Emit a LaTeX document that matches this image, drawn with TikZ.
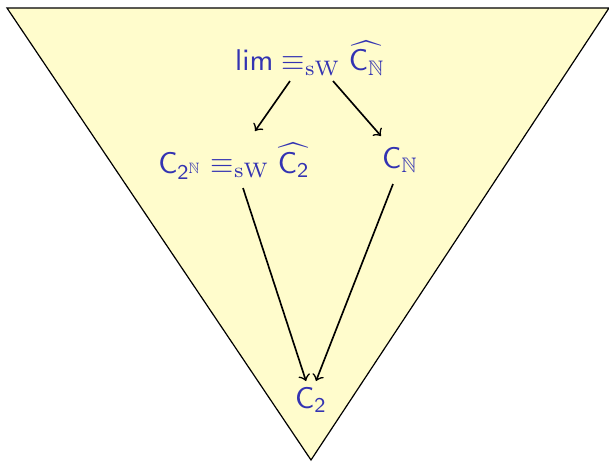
\documentclass[tikz,border=0pt]{standalone}
\usepackage{amsmath,amssymb}
\definecolor{struct}{RGB}{51,51,178}
\definecolor{tri}{RGB}{255,252,204}
\begin{document}
\begin{tikzpicture}[x=0.3333pt,y=-0.3333pt,
  lbl/.style={text=struct,font=\sffamily\normalsize,inner sep=1pt},
  arr/.style={->,line width=0.55pt}]
\useasboundingbox (0,0) rectangle (609,461);
\draw[fill=tri,line width=0.4pt] (7,8) -- (609,8) -- (311,460) -- cycle;
\node[lbl] (top) at (310,58) {$\mathsf{lim} \equiv_{\mathrm{sW}} \widehat{\mathsf{C}_{\mathbb{N}}}$};
\node[lbl] (left) at (234,161) {$\mathsf{C}_{\mathsf{2}^{\mathbb{N}}} \equiv_{\mathrm{sW}} \widehat{\mathsf{C}_{\mathsf{2}}}$};
\node[lbl] (right) at (400,160) {$\mathsf{C}_{\mathbb{N}}$};
\node[lbl] (bot) at (311,400) {$\mathsf{C}_{\mathsf{2}}$};
\draw[arr] (290,81) -- (255,131);
\draw[arr] (333,81) -- (381,136);
\draw[arr] (243,188) -- (306,381);
\draw[arr] (393,184) -- (316,381);
\end{tikzpicture}
\end{document}
